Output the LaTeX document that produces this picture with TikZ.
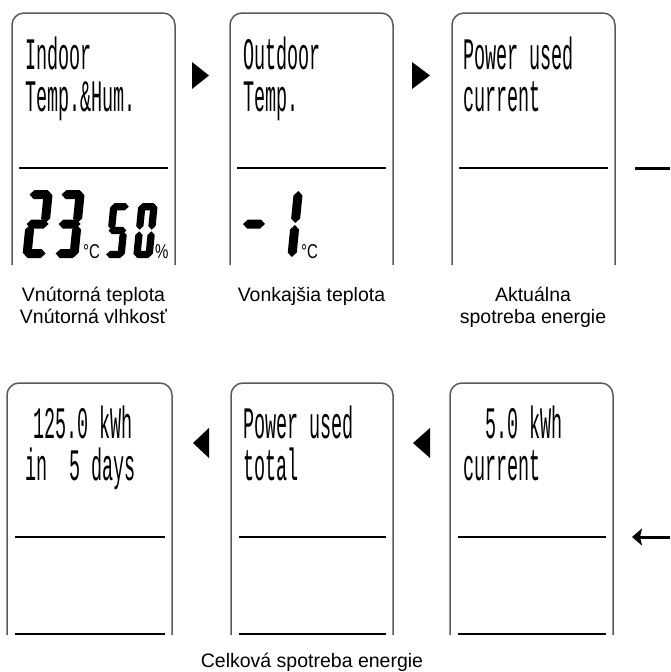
\documentclass[tikz,border=0pt]{standalone}
\usepackage{fontspec}
\setmainfont{Liberation Sans}
\newfontfamily\lcdfont[FakeStretch=0.41]{Liberation Mono}
\newfontfamily\unitfont[FakeStretch=0.75]{Liberation Sans}
\usepackage{tikz}
\usetikzlibrary{arrows.meta, positioning}
\usepackage{xcolor}
\definecolor{frame}{HTML}{5A5A5A}

\tikzset{
  panel/.style={draw=frame, line width=1.5pt, rounded corners=12pt},
  rule/.style={line width=1.8pt},
  lcd/.style={anchor=base west, inner sep=0pt, font=\lcdfont\fontsize{45}{42}\selectfont},
  unit/.style={anchor=base west, inner sep=0pt, font=\unitfont\fontsize{20}{20}\selectfont},
  caption/.style={anchor=base, inner sep=0pt, font=\fontsize{19.5}{22}\selectfont},
  seg/.style={fill=black},
  marker/.style={fill=black},
  link/.style={line width=3pt},
}

% seven-segment parts, local y downwards
\newcommand{\sega}{\fill[seg] (1,4.5) -- (5.5,0) -- (18.5,0) -- (23,4.5) -- (18.5,9) -- (5.5,9) -- cycle;}
\newcommand{\segg}{\fill[seg] (1,34) -- (5.5,29.5) -- (18.5,29.5) -- (23,34) -- (18.5,38.5) -- (5.5,38.5) -- cycle;}
\newcommand{\segd}{\fill[seg] (1,63.5) -- (5.5,59) -- (18.5,59) -- (23,63.5) -- (18.5,68) -- (5.5,68) -- cycle;}
\newcommand{\segf}{\fill[seg] (4.5,1) -- (9,5.5) -- (9,28.5) -- (4.5,33) -- (0,28.5) -- (0,5.5) -- cycle;}
\newcommand{\sege}{\fill[seg] (4.5,35) -- (9,39.5) -- (9,62.5) -- (4.5,67) -- (0,62.5) -- (0,39.5) -- cycle;}
\newcommand{\segb}{\fill[seg] (19.5,1) -- (24,5.5) -- (24,28.5) -- (19.5,33) -- (15,28.5) -- (15,5.5) -- cycle;}
\newcommand{\segc}{\fill[seg] (19.5,35) -- (24,39.5) -- (24,62.5) -- (19.5,67) -- (15,62.5) -- (15,39.5) -- cycle;}
\newcommand{\lcddigit}[3][1]{%
  \begin{scope}[shift={#2}, scale=#1, xslant=0.1]
    \foreach \s in {#3} {\csname seg\s\endcsname}
  \end{scope}}

\begin{document}
\begin{tikzpicture}[x=1pt, y=-1pt]
  \useasboundingbox (0,0) rectangle (670,672);

  \foreach \l/\r in {12/175, 230/393, 452/615} {
    \draw[panel] (\l,265) |- (\r,13) -- (\r,265);
    \draw[rule] (\l+7,168) -- (\r-7,168);
  }
  \foreach \l/\r in {7/172, 231/393, 450/613} {
    \draw[panel] (\l,635) |- (\r,383) -- (\r,635);
    \draw[rule] (\l+8,537) -- (\r-7,537);
    \draw[rule] (\l+8,634) -- (\r-7,634);
  }

  \node[lcd] (indoor) at (25,69) {Indoor};
  \node[lcd] (indoorsub) at (25,111) {Temp.\&Hum.};
  \node[lcd] (outdoor) at (243,69) {Outdoor};
  \node[lcd] (outdoorsub) at (243,111) {Temp.};
  \node[lcd] (nowhead) at (463,69) {Power used};
  \node[lcd] (nowsub) at (463,111) {current};

  \node[lcd] (sumval) at (33,438) {125.0 kWh};
  \node[lcd] (sumdays) at (25,480) {in\phantom{00}5 days};
  \node[lcd] (totalhead) at (243,438) {Power used};
  \node[lcd] (totalsub) at (243,480) {total};
  \node[lcd] (nowval) at (485,438) {5.0 kWh};
  \node[lcd] (nowcur) at (463,480) {current};

  \lcddigit{(29,190)}{a,b,g,e,d}
  \lcddigit{(61,190)}{a,b,g,c,d}
  \lcddigit[0.81]{(110.5,203)}{a,f,g,c,d}
  \lcddigit[0.81]{(138.5,203)}{a,b,c,d,e,f}
  \node[unit] (degin) at (83,258) {°C};
  \node[unit] (humin) at (155,258) {\%};
  \lcddigit{(245.4,190)}{g}
  \lcddigit{(279,190)}{b,c}
  \node[unit] (degout) at (301,258) {°C};

  \fill[marker] (192,62) -- (209,75.5) -- (192,89) -- cycle;
  \fill[marker] (412,62) -- (430,75.5) -- (412,89) -- cycle;
  \fill[marker] (209,428) -- (193,443) -- (209,458) -- cycle;
  \fill[marker] (430,428) -- (413,443) -- (430,458) -- cycle;

  \coordinate (outA) at (635,168);
  \coordinate (outB) at (670,168);
  \draw[link] (outA) -- (outB);
  \coordinate (inA) at (670,537);
  \coordinate (inB) at (632,537);
  \draw[link, -{Stealth[length=10pt, width=17pt, inset=2pt]}] (inA) -- (inB);

  \node[caption] (capin) at (93.5,301) {Vnútorná teplota};
  \node[caption] (capinsub) at (93.5,323) {Vnútorná vlhkosť};
  \node[caption] (capout) at (311.5,301) {Vonkajšia teplota};
  \node[caption] (capnow) at (533,301) {Aktuálna};
  \node[caption] (capnowsub) at (533,323) {spotreba energie};
  \node[caption] (captotal) at (312,667) {Celková spotreba energie};
\end{tikzpicture}
\end{document}
